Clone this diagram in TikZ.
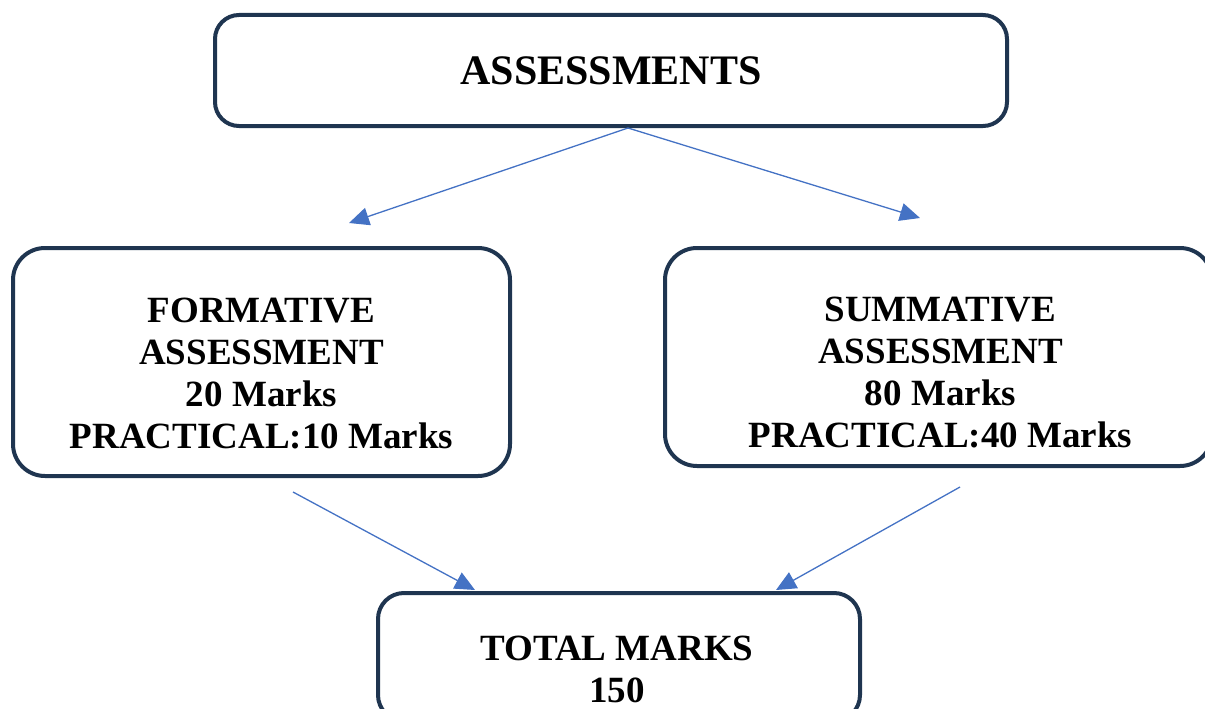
\documentclass[tikz,border=0pt]{standalone}
\usepackage{fontspec}
\setmainfont{Liberation Serif}
\usetikzlibrary{arrows.meta}
\definecolor{boxline}{HTML}{1F3550}
\definecolor{flowblue}{HTML}{4472C4}
\tikzset{
    markbox/.style={draw=boxline, line width=4pt, rounded corners=32pt, inner sep=0pt},
    marktext/.style={align=center, font=\bfseries\fontsize{37}{42}\selectfont},
    flow/.style={draw=flowblue, line width=1.3pt, -{Triangle[length=20pt,width=18pt]}}
}
\begin{document}
\begin{tikzpicture}[x=1pt,y=-1pt]
    \useasboundingbox (0,0) rectangle (1205,709);
    % boxes
    \node[markbox, rounded corners=24pt, minimum width=792pt, minimum height=111pt,
          font=\bfseries\fontsize{42}{48}\selectfont] (assess) at (611,70.5) {ASSESSMENTS};
    \node[markbox, minimum width=497pt, minimum height=228pt,
          label={[marktext, yshift=-12pt]center:FORMATIVE\\ASSESSMENT\\20 Marks\\PRACTICAL:10 Marks}]
          (form) at (261.5,362) {};
    \node[markbox, minimum width=547pt, minimum height=218pt,
          label={[marktext, yshift=-16pt, xshift=2pt]center:SUMMATIVE\\ASSESSMENT\\80 Marks\\PRACTICAL:40 Marks}]
          (summ) at (938.5,357) {};
    \node[markbox, rounded corners=26pt, minimum width=482pt, minimum height=128pt,
          label={[marktext, yshift=-12pt, xshift=-2pt]center:TOTAL MARKS\\150}]
          (total) at (619,657) {};
    % arrow ends
    \coordinate (formtip) at (349,223);
    \coordinate (summtip) at (920,218);
    \coordinate (formfoot) at (293,492);
    \coordinate (summfoot) at (960,487);
    \coordinate (totleft) at (475,590);
    \coordinate (totright) at (776,590);
    % arrows
    \draw[flow] ([xshift=17pt]assess.south) -- (formtip);
    \draw[flow] ([xshift=17pt]assess.south) -- (summtip);
    \draw[flow] (formfoot) -- (totleft);
    \draw[flow] (summfoot) -- (totright);
\end{tikzpicture}
\end{document}
